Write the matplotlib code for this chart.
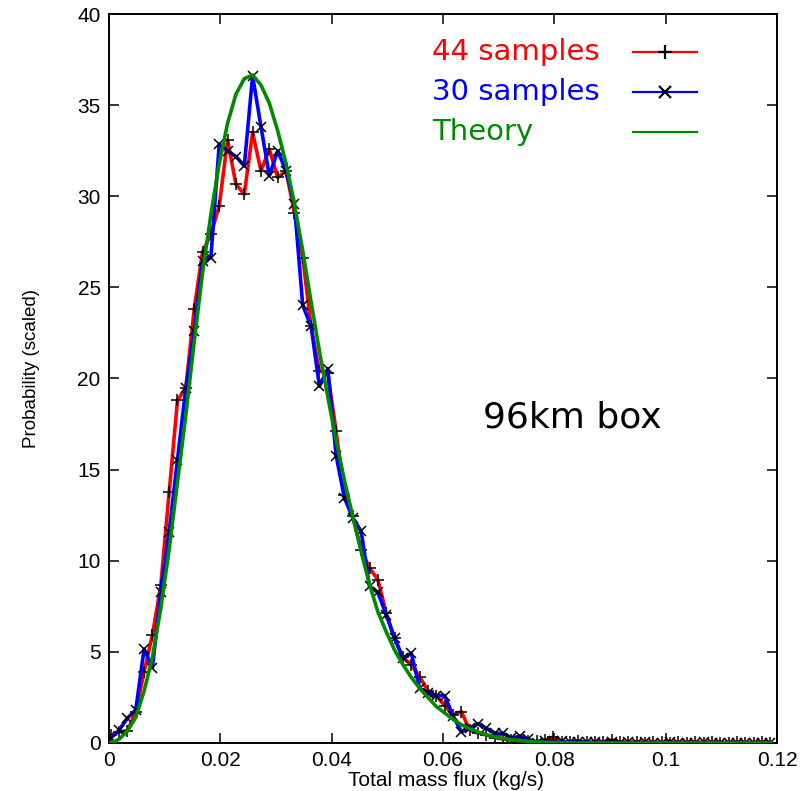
import numpy as np
import matplotlib
matplotlib.use('Agg')
import matplotlib.pyplot as plt
from matplotlib import font_manager

# bin centres of the flux histogram (kg/s), 80 bins of 0.0015
bin_width = 0.0015
flux = 0.0003 + bin_width * np.arange(80)

# 44 samples (red)
p44 = [0.44, 0.60, 0.68, 1.70, 3.90, 5.93, 8.65, 13.75, 18.80, 19.50,
       23.80, 26.94, 27.91, 29.47, 33.08, 30.66, 30.11, 33.50, 31.39, 32.58,
       31.03, 31.39, 29.10, 26.63, 22.87, 20.40, 20.30, 17.10, 13.60, 12.43,
       10.60, 9.60, 8.96, 7.12, 5.75, 4.70, 4.29, 3.64, 2.87, 2.60,
       2.05, 1.54, 1.72, 0.71, 0.55, 0.45, 0.30, 0.22, 0.17, 0.12,
       0.10, 0.10, 0.15, 0.32, 0.05, 0.05, 0.12, 0.04, 0.03, 0.06,
       0.16, 0.04, 0.03, 0.05, 0.02, 0.04, 0.03, 0.02, 0.05, 0.02,
       0.03, 0.02, 0.04, 0.02, 0.02, 0.03, 0.02, 0.02, 0.03, 0.02]

# 30 samples (blue)
p30 = [0.26, 0.71, 1.36, 1.81, 5.15, 4.14, 8.31, 11.58, 15.55, 19.49,
       22.60, 26.45, 26.63, 32.86, 32.49, 32.18, 31.67, 36.61, 33.81, 31.12,
       32.49, 31.39, 29.56, 24.01, 22.87, 19.58, 20.53, 15.77, 13.44, 12.35,
       11.61, 8.59, 8.26, 7.03, 5.75, 4.65, 4.93, 3.00, 2.73, 2.60,
       2.60, 1.48, 0.62, 0.81, 1.05, 0.81, 0.53, 0.53, 0.26, 0.38,
       0.20, 0.02, 0.10, 0.05, 0.10, 0.04, 0.06, 0.03, 0.05, 0.02,
       0.04, 0.02, 0.03, 0.02, 0.03, 0.02, 0.02, 0.03, 0.02, 0.02,
       0.02, 0.03, 0.02, 0.02, 0.02, 0.02, 0.02, 0.02, 0.02, 0.02]

# theory curve (green)
theory = [0.00, 0.20, 0.65, 1.40, 2.85, 4.70, 7.40, 10.60, 14.30, 18.00,
          22.00, 25.80, 29.00, 31.80, 34.00, 35.60, 36.45, 36.65, 36.10, 35.10,
          33.60, 31.80, 29.60, 27.00, 24.20, 21.50, 19.00, 16.60, 14.40, 12.40,
          10.50, 8.70, 7.20, 6.10, 5.10, 4.30, 3.60, 3.00, 2.50, 2.00,
          1.65, 1.30, 1.00, 0.78, 0.60, 0.45, 0.33, 0.25, 0.18, 0.13,
          0.09, 0.06, 0.04, 0.03, 0.02, 0.015, 0.01, 0.01, 0.005, 0.005,
          0.0, 0.0, 0.0, 0.0, 0.0, 0.0, 0.0, 0.0, 0.0, 0.0,
          0.0, 0.0, 0.0, 0.0, 0.0, 0.0, 0.0, 0.0, 0.0, 0.0]

x_ticks = [0, 0.02, 0.04, 0.06, 0.08, 0.1, 0.12]
x_ticklabels = ['0', '0.02', '0.04', '0.06', '0.08', '0.1', '0.12']
y_ticks = [0, 5, 10, 15, 20, 25, 30, 35, 40]

RED = '#ff0000'
BLUE = '#0000ff'
GREEN = '#008a00'

installed = {f.name for f in font_manager.fontManager.ttflist}
narrow = 'Liberation Sans Narrow' if 'Liberation Sans Narrow' in installed else 'Liberation Sans'
ylab_size = 15 if narrow == 'Liberation Sans Narrow' else 13.5

plt.rcParams['font.family'] = ['Liberation Sans', 'DejaVu Sans']

fig = plt.figure(figsize=(8.04, 7.91), dpi=100)
ax = fig.add_axes([0.1356, 0.0607, 0.8308, 0.9216])

styles = [
    ('44 samples', p44, RED, '+', 8),
    ('30 samples', p30, BLUE, 'x', 6.5),
    ('Theory', theory, GREEN, None, 0),
]

for k, (label, vals, col, mk, ms) in enumerate(styles):
    ax.plot(flux, vals, color=col, lw=2.6, marker=mk, ms=ms, mec='black',
            mew=1.1, zorder=3 + k)

# legend drawn by hand: text left-aligned, key to the right (gnuplot style)
leg_y = [0.948, 0.893, 0.838]
for (label, vals, col, mk, ms), y in zip(styles, leg_y):
    ax.text(0.4835, y, label, transform=ax.transAxes, color=col,
            fontsize=21, family=['DejaVu Sans'], ha='left', va='center')
    ax.plot([0.784, 0.880], [y, y], transform=ax.transAxes, color=col,
            lw=1.6, clip_on=False)
    if mk:
        ax.plot([0.832], [y], transform=ax.transAxes, ls='none', marker=mk,
                ms=ms + 2, mec='black', mew=1.6, clip_on=False)

ax.set_xlim(0, 0.12)
ax.set_ylim(0, 40)
ax.set_xticks(x_ticks)
ax.set_xticklabels(x_ticklabels)
ax.set_yticks(y_ticks)
ax.tick_params(direction='in', length=7, width=1.1, labelsize=15,
               top=True, right=True, pad=6)
for s in ax.spines.values():
    s.set_linewidth(1.4)

ax.set_xlabel('Total mass flux (kg/s)', fontsize=15)
ax.xaxis.set_label_coords(0.5045, -0.038)
ax.set_ylabel('Probability (scaled)', fontsize=ylab_size,
              family=[narrow, 'DejaVu Sans'])
ax.yaxis.set_label_coords(-0.103, 0.514)

ax.text(0.56, 0.447, '96km box', transform=ax.transAxes, fontsize=26,
        family=['DejaVu Sans'], ha='left', va='center')

fig.savefig('out.png', dpi=100)
